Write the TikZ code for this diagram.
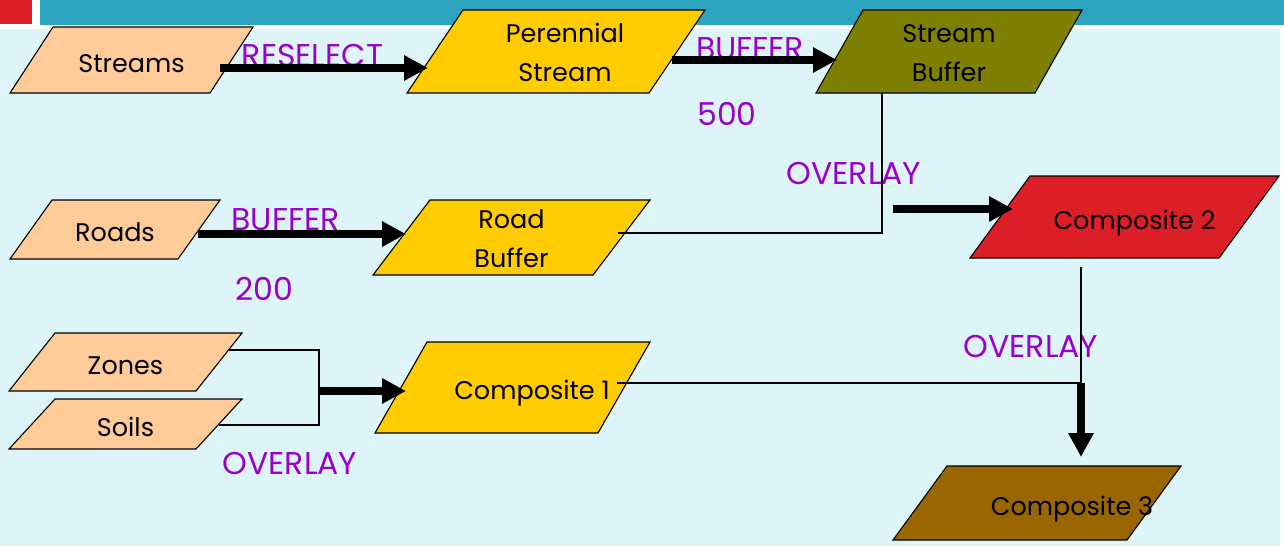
\documentclass[tikz,border=0pt]{standalone}
\usepackage{fontspec}
\setmainfont{Poppins}
\usetikzlibrary{arrows.meta,backgrounds}

\definecolor{pagebg}{HTML}{DDF4F8}
\definecolor{barteal}{HTML}{2CA3BF}
\definecolor{barred}{HTML}{DC1F27}
\definecolor{peachFill}{HTML}{FFCC99}
\definecolor{goldFill}{HTML}{FFCC00}
\definecolor{oliveFill}{HTML}{808000}
\definecolor{redFill}{HTML}{DC1F27}
\definecolor{brownFill}{HTML}{996600}
\definecolor{opcolor}{HTML}{9900CC}

% parallelogram behind a data-layer node: name, slant, fill
\newcommand\layershape[3]{%
  \begin{pgfonlayer}{background}
    \draw[boxedge, fill=#3] ([xshift=#2]#1.north west) -- (#1.north east)
      -- ([xshift=-#2]#1.south east) -- (#1.south west) -- cycle;
  \end{pgfonlayer}}
% strut that lowers the first line of a two-line label slightly
\newcommand\toplinestrut{\rule{0pt}{22pt}}

\tikzset{
  layerbox/.style={inner sep=0pt, outer sep=0pt, anchor=north west, align=center,
    font=\fontsize{25.5}{39}\selectfont, text=black},
  oneline/.style={layerbox, text height=24pt, text depth=0pt},
  twoline/.style={layerbox},
  boxedge/.style={draw=black, line width=1.1pt, line join=miter},
  oplabel/.style={inner sep=0pt, font=\fontsize{31.5}{36}\selectfont, text=opcolor},
  bigarrow/.style={line width=8pt, -{Triangle[length=24pt,width=24pt]}},
  wire/.style={line width=1.6pt, draw=black},
}

\begin{document}
\begin{tikzpicture}[x=1pt, y=-1pt]
  \useasboundingbox (0,0) rectangle (1284,546);
  \begin{pgfonlayer}{background}
    \fill[white] (0,0) rectangle (1284,546);
    \fill[pagebg] (0,29) rectangle (1280,546);
    \fill[barred] (0,0) rectangle (32,24);
    \fill[barteal] (40,0) rectangle (1284,25);
  \end{pgfonlayer}

  % data layers
  \node[oneline, minimum width=243pt, minimum height=66pt] (streams) at (10,27) {Streams};
  \node[twoline, minimum width=298pt, minimum height=83pt] (perennial) at (407,10)
    {\hspace*{18pt}\toplinestrut Perennial\\\hspace*{18pt}Stream};
  \node[twoline, minimum width=266pt, minimum height=83pt] (sbuffer) at (816,10)
    {\toplinestrut Stream\\Buffer};
  \node[oneline, minimum width=210pt, minimum height=59pt] (roads) at (10,200) {Roads};
  \node[twoline, minimum width=277pt, minimum height=75pt] (rbuffer) at (373,200)
    {\toplinestrut Road\\Buffer};
  \node[oneline, minimum width=309pt, minimum height=82pt] (comp2) at (970,176)
    {\hspace*{20pt}Composite 2};
  \node[oneline, minimum width=233pt, minimum height=58pt] (zones) at (9,333) {Zones};
  \node[oneline, minimum width=233pt, minimum height=50pt] (soils) at (9,399) {Soils};
  \node[oneline, minimum width=275pt, minimum height=91pt] (comp1) at (375,342)
    {\hspace*{39pt}Composite 1};
  \node[oneline, minimum width=288pt, minimum height=74pt] (comp3) at (893,466)
    {\hspace*{70pt}Composite 3};

  \layershape{streams}{43}{peachFill}
  \layershape{perennial}{56}{goldFill}
  \layershape{sbuffer}{47}{oliveFill}
  \layershape{roads}{42}{peachFill}
  \layershape{rbuffer}{57}{goldFill}
  \layershape{comp2}{60}{redFill}
  \layershape{zones}{46}{peachFill}
  \layershape{soils}{46}{peachFill}
  \layershape{comp1}{52}{goldFill}
  \layershape{comp3}{54}{brownFill}

  % operation labels
  \node[oplabel] (opReselect) at (312.5,55) {RESELECT};
  \node[oplabel] (opBufA) at (750,49) {BUFFER};
  \node[oplabel] (opBufADist) at (727,114) {500};
  \node[oplabel] (opBufB) at (285.5,220) {BUFFER};
  \node[oplabel] (opBufBDist) at (264,289) {200};
  \node[oplabel] (opOverA) at (290,463) {OVERLAY};
  \node[oplabel] (opOverB) at (854,174) {OVERLAY};
  \node[oplabel] (opOverC) at (1031,347) {OVERLAY};

  % joining wires
  \draw[wire] ([shift={(-32,-4.5)}]rbuffer.east) -| coordinate[pos=0.5] (joinB)
    ([shift={(-67,0)}]sbuffer.south);
  \draw[wire] ([shift={(-13,-12)}]zones.east) -- ++(90,0) |- ([shift={(-23,1)}]soils.east);
  \coordinate (joinA) at ([shift={(77,29)}]zones.east);
  \draw[wire] ([shift={(-33,-4.5)}]comp1.east) -| coordinate[pos=0.5] (joinC)
    ([shift={(-43.5,9)}]comp2.south);

  % operations
  \draw[bigarrow] ([shift={(-33,8)}]streams.east) -- ([shift={(21,16.5)}]perennial.west);
  \draw[bigarrow] ([shift={(-33,8.5)}]perennial.east) -- ([shift={(21,8.5)}]sbuffer.west);
  \draw[bigarrow] ([shift={(-22,4.5)}]roads.east) -- ([shift={(33,-3.5)}]rbuffer.west);
  \draw[bigarrow] ([shift={(11,-24)}]joinB) -- ([shift={(43,-8)}]comp2.west);
  \draw[bigarrow] (joinA) -- ([shift={(31,3.5)}]comp1.west);
  \draw[bigarrow] (joinC) -- ([shift={(44,-9)}]comp3.north);
\end{tikzpicture}
\end{document}
